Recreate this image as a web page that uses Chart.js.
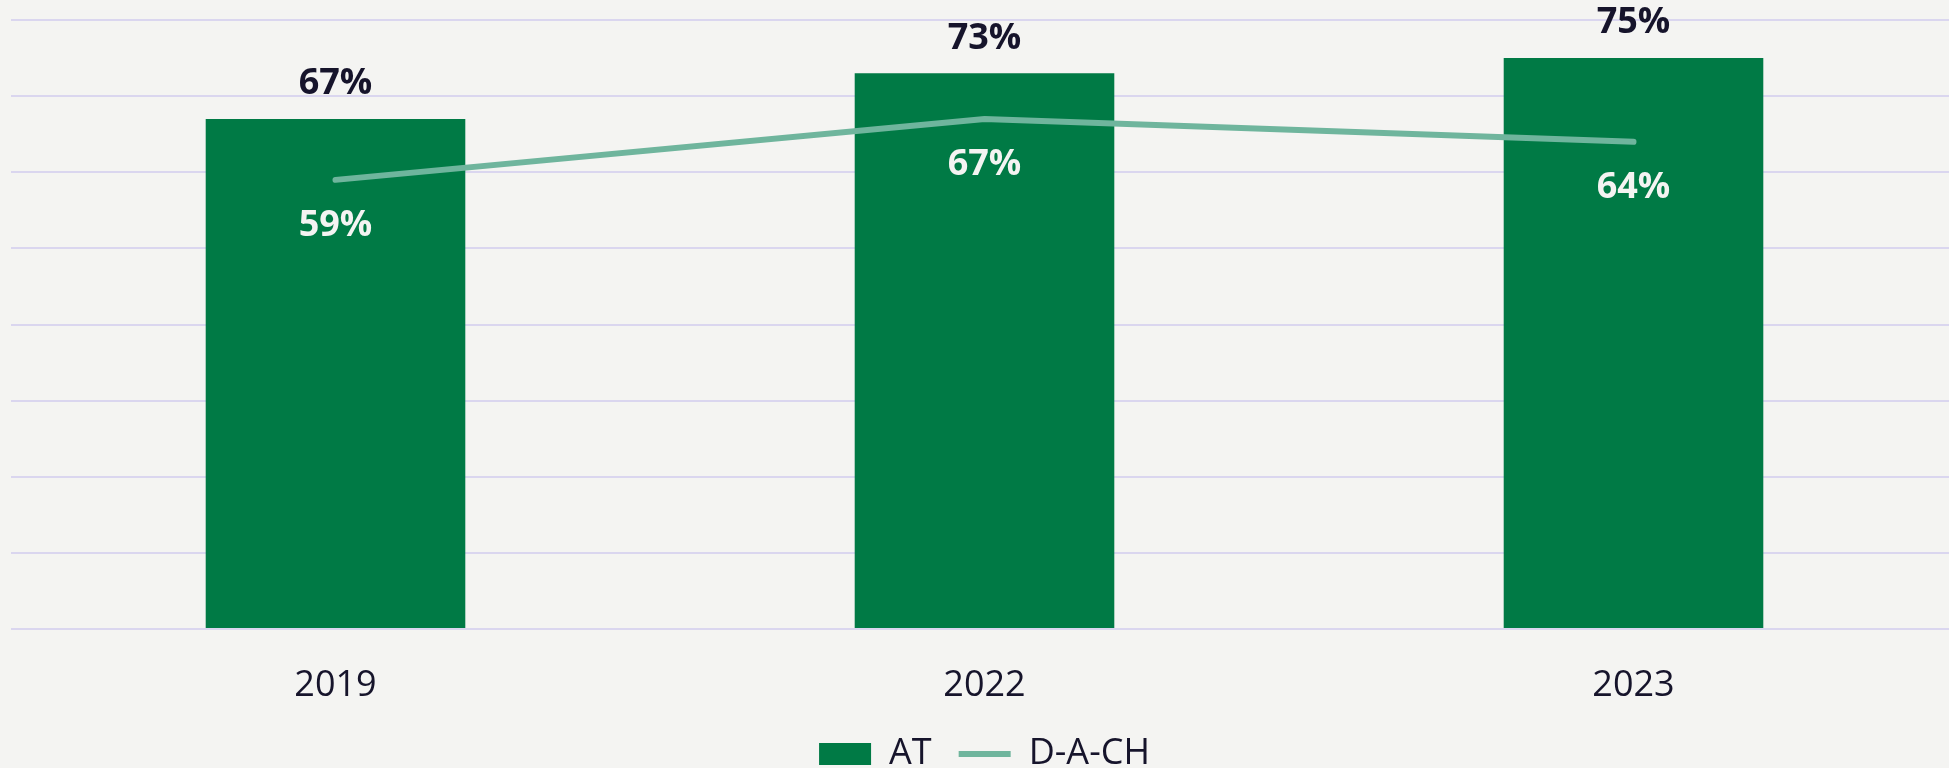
<!DOCTYPE html>
<html>
<head>
<meta charset="utf-8">
<script src="https://cdn.jsdelivr.net/npm/chart.js@4"></script>
<style>
    html, body { margin: 0; padding: 0; background: #f4f4f2; overflow: hidden; }
    #wrap { width: 1960px; height: 782px; position: relative; }
</style>
</head>
<body>
<div id="wrap"><canvas id="chart"></canvas></div>
<script>
// --- Data ---
const years = ["2019", "2022", "2023"];
const atValues = [67, 73, 75];
const dachValues = [59, 67, 64];
const seriesNames = ["AT", "D-A-CH"];

// --- Colours ---
const C = {
    bar: "#007a45",
    line: "#6fb59d",
    grid: "#dad6ef",
    text: "#16142b",
    light: "#f4f4f2",
};
const FONT = "'Open Sans', 'Noto Sans', sans-serif";

// --- Value labels drawn on top of the marks ---
const valueLabels = {
    id: "valueLabels",
    afterDatasetsDraw(chart) {
        const ctx = chart.ctx;
        ctx.save();
        ctx.font = "bold 36px " + FONT;
        ctx.textAlign = "center";
        ctx.textBaseline = "middle";
        chart.getDatasetMeta(0).data.forEach((el, i) => {
            ctx.fillStyle = C.text;
            ctx.fillText(atValues[i] + "%", el.x, el.y - 35);
        });
        chart.getDatasetMeta(1).data.forEach((el, i) => {
            ctx.fillStyle = C.light;
            ctx.fillText(dachValues[i] + "%", el.x, el.y + 46);
        });
        ctx.restore();
    }
};

new Chart(document.getElementById("chart"), {
    data: {
        labels: years,
        datasets: [
            {
                type: "bar",
                label: seriesNames[0],
                data: atValues,
                backgroundColor: C.bar,
                borderWidth: 0,
                barPercentage: 0.4,
                categoryPercentage: 1,
                order: 1,
            },
            {
                type: "line",
                label: seriesNames[1],
                data: dachValues,
                borderColor: C.line,
                backgroundColor: C.line,
                borderWidth: 6,
                borderCapStyle: "round",
                pointRadius: 0,
                tension: 0,
                order: 0,
            },
        ],
    },
    options: {
        responsive: true,
        maintainAspectRatio: false,
        animation: false,
        layout: { padding: { left: 11, right: 2, top: 20, bottom: 0 } },
        scales: {
            x: {
                grid: { display: false },
                border: { display: false },
                ticks: { color: C.text, font: { family: FONT, size: 36 }, padding: 27 },
                afterFit(scale) { scale.height = 80; },
            },
            y: {
                min: 0,
                max: 80,
                ticks: { display: false, stepSize: 10 },
                grid: { color: C.grid, lineWidth: 2, drawTicks: false },
                border: { display: false },
            },
        },
        plugins: {
            tooltip: { enabled: false },
            legend: {
                position: "bottom",
                labels: {
                    usePointStyle: true,
                    pointStyleWidth: 52,
                    boxHeight: 22,
                    padding: 27,
                    color: C.text,
                    font: { family: FONT, size: 36 },
                    generateLabels(chart) {
                        const items = Chart.defaults.plugins.legend.labels.generateLabels(chart);
                        items.forEach(it => {
                            it.pointStyle = it.datasetIndex === 0 ? "rect" : "line";
                            if (it.datasetIndex === 0) it.lineWidth = 0;
                        });
                        return items.sort((a, b) => a.datasetIndex - b.datasetIndex);
                    },
                },
            },
        },
    },
    plugins: [valueLabels],
});
</script>
</body>
</html>
